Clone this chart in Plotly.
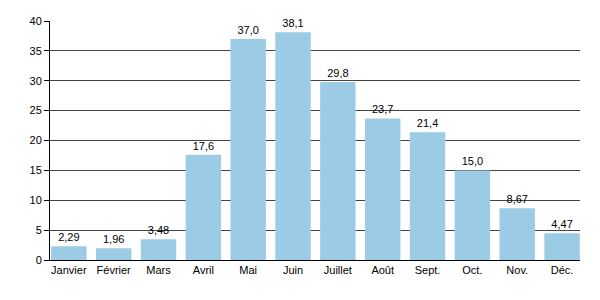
import plotly.graph_objects as go

months = ["Janvier", "Février", "Mars", "Avril", "Mai", "Juin", "Juillet",
          "Août", "Sept.", "Oct.", "Nov.", "Déc."]
values = [2.29, 1.96, 3.48, 17.6, 37.0, 38.1, 29.8, 23.7, 21.4, 15.0, 8.67, 4.47]

labels = [(f"{v:.1f}" if v >= 10 else f"{v:.2f}").replace(".", ",") for v in values]

fig = go.Figure(go.Bar(
    x=months, y=values, text=labels, textposition="outside",
    textfont=dict(color="black", size=11, family="Liberation Sans"),
    marker=dict(color="#9ccce5", line=dict(width=0)),
    cliponaxis=False,
))

fig.update_layout(
    width=600, height=300,
    margin=dict(l=50, r=20, t=21, b=40),
    plot_bgcolor="white", paper_bgcolor="white",
    bargap=0.21,
    font=dict(family="Liberation Sans", size=11, color="black"),
    showlegend=False,
    uniformtext=dict(minsize=11, mode="show"),
)
fig.update_xaxes(showline=True, linecolor="black", linewidth=1, ticks="",
                 showgrid=False, tickfont=dict(size=11), range=[-0.42, 11.4])
fig.update_yaxes(range=[0, 40], dtick=5, showline=True, linecolor="black", linewidth=1,
                 ticks="outside", ticklen=5, tickcolor="black",
                 gridcolor="#444444", gridwidth=1, zeroline=False,
                 tickfont=dict(size=11))

fig.write_html("out.html")
